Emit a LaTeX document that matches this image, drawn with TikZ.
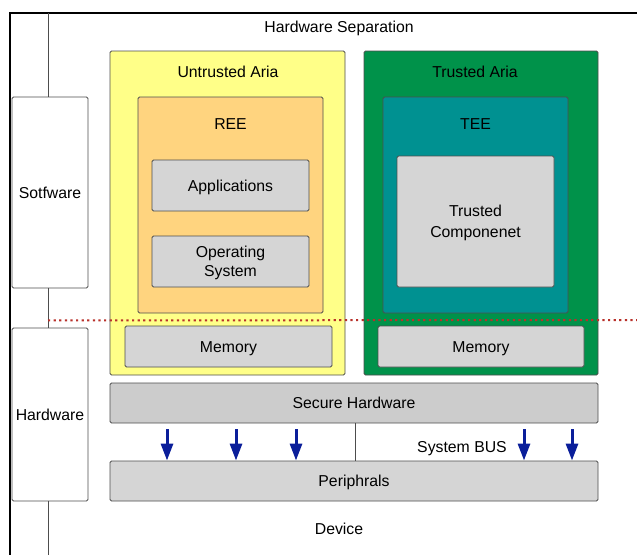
\documentclass[tikz,border=0pt]{standalone}
\usepackage{fontspec}
\setmainfont{Liberation Sans}
\usetikzlibrary{arrows.meta}
\definecolor{untrusted}{HTML}{FFFF88}
\definecolor{ree}{HTML}{FFD47F}
\definecolor{trusted}{HTML}{00924A}
\definecolor{tee}{HTML}{009191}
\definecolor{block}{HTML}{D5D5D5}
\definecolor{edge}{HTML}{4D4D4D}
\definecolor{busblue}{HTML}{0A1E9A}
\definecolor{sepred}{HTML}{B8302A}
\tikzset{
  box/.style={draw=edge, line width=0.9pt, rounded corners=1.5pt, inner sep=0pt},
  txt/.style={font=\fontsize{15.8}{19}\selectfont},
  lbl/.style={txt, text height=11.3pt, text depth=0pt},
  busarrow/.style={draw=busblue, line width=3pt, -{Triangle[length=17pt,width=12pt]}},
  tie/.style={draw=edge, line width=0.9pt},
}
\begin{document}
\begin{tikzpicture}[x=1pt,y=-1pt]
\useasboundingbox (0,0) rectangle (637,555);
% outer device frame
\draw[line width=2pt] (637,13) -- (10,13) -- (10,555);
% layer boxes on the left
\node[box, fill=white, minimum width=76, minimum height=191, lbl] (sw) at (50,192.5) {Sotfware};
\node[box, fill=white, minimum width=76, minimum height=173, lbl] (hw) at (50,414.5) {Hardware};
\coordinate (topend) at (48,13);
\coordinate (botend) at (48,555);
\draw[tie] (topend) -- (topend |- sw.north);
\draw[tie] (sw.south -| topend) -- (hw.north -| topend);
\draw[tie] (hw.south -| topend) -- (botend);
% untrusted side
\node[box, fill=untrusted, minimum width=235, minimum height=324] (ua) at (227.5,213) {};
\node[lbl] at (228,72) {Untrusted Aria};
\node[box, fill=ree, minimum width=185, minimum height=216] (ree) at (230.5,205) {};
\node[lbl] at (230.5,124) {REE};
\node[box, fill=block, minimum width=157, minimum height=51, lbl] (app) at (230.5,185.5) {Applications};
\node[box, fill=block, minimum width=157, minimum height=51,
      label={[txt, align=center, yshift=-1.5pt]center:Operating\\[0pt]System}] (os) at (230.5,261.5) {};
\node[box, fill=block, minimum width=207, minimum height=41, lbl] (memu) at (228.5,346.5) {Memory};
% trusted side
\node[box, fill=trusted, minimum width=234, minimum height=324] (ta) at (481,213) {};
\node[lbl] at (475,72) {Trusted Aria};
\node[box, fill=tee, minimum width=185, minimum height=216] (tee) at (475.5,205) {};
\node[lbl] at (475.5,124) {TEE};
\node[box, fill=block, minimum width=157, minimum height=131,
      label={[txt, align=center, yshift=-1.5pt]center:Trusted\\[2pt]Componenet}] (tc) at (475.5,221.5) {};
\node[box, fill=block, minimum width=206, minimum height=41, lbl] (memt) at (481,346.5) {Memory};
% software / hardware boundary
\draw[sepred, line width=2pt, dash pattern=on 2.2pt off 3.4pt] (sw.south -| topend) ++(0,32) coordinate (sepstart) -- (637,320);
% shared hardware
\node[box, fill=block!96!black, minimum width=488, minimum height=40, lbl] (sh) at (354,403) {Secure Hardware};
\node[box, fill=block, minimum width=488, minimum height=40, lbl] (per) at (354,481) {Periphrals};
\coordinate (busx) at (355,0);
\draw[tie] (sh.south -| busx) -- (per.north -| busx);
\node[lbl] at (462,446.5) {System BUS};
\foreach \ax in {167,236,296,524,572}
  \draw[busarrow] (\ax,429) -- (per.north -| \ax,0);
% labels of the frame
\node[lbl] at (339,27) {Hardware Separation};
\node[lbl] at (339,529) {Device};
\end{tikzpicture}
\end{document}
